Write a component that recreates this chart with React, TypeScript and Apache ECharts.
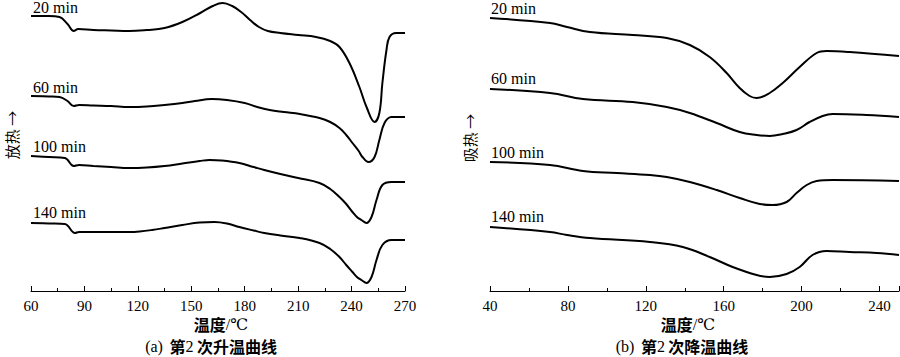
import React, { useEffect, useRef } from "react";
import * as echarts from "echarts";

// Left panel: 2nd heating curves (temperature °C, relative heat flow, arbitrary units)
const heat20: [number, number][] = [[60,275],[70,275],[76,274],[80.5,267],[84,260],[86.5,262],[95,261],[105,260.5],[115,260],[125,261],[135,263],[145,269],[155,278],[162,285],[167.6,288],[173,285],[178,279],[183,271],[188,264],[193,260],[200,258],[210,256],[220,254],[228,250],[233.2,244],[238.8,228],[244.4,204],[248.4,184],[252.9,169],[255.6,178],[257.3,208],[259.6,241],[261.3,254],[265,258],[270,258]];
const heat60: [number, number][] = [[60,195],[70,194.5],[76,194],[80.5,190],[84,185],[87,186],[95,185.5],[105,185],[115,184],[125,184.5],[135,186],[145,188],[152,190],[161.5,192],[170,191],[180,188],[187,184],[194,181],[202,179],[211,177],[222,173],[228,169],[233.2,163],[237,156],[240.5,148],[244,140],[246.1,134],[249.5,129],[252.9,134],[255.6,151],[258.5,168],[262.4,174],[270,174]];
const heat100: [number, number][] = [[60,135],[70,134],[79,133],[84,125],[87,126],[95,125],[105,124],[115,123],[125,123.5],[135,125],[145,127.5],[154.7,130],[160.3,131],[167,130.5],[177,128],[185,124],[191,121],[200,117],[210,113],[222,108],[228,102],[233.2,94],[237,87],[240.5,79],[243,74],[245.5,71],[248.4,68],[251.2,74],[254,91],[257.3,106],[262.4,109],[270,109]];
const heat140: [number, number][] = [[60,68],[70,67.5],[79,67],[84.7,58],[87,59],[95,59],[105,59],[115,59],[121,59.5],[128,61],[135,63],[145,66],[154.7,68.5],[163,69],[170,67.5],[177,64],[185,60.5],[191,58],[200,55.5],[210.8,53],[222,48],[228,42],[233.2,34],[237,26],[240.5,19],[243,14],[245.5,11],[248.4,8],[251.2,14],[254,31],[257.3,46],[262.4,51],[270,51]];

// Right panel: 2nd cooling curves
const cool20: [number, number][] = [[40,273],[70.8,268],[79.5,264],[91.3,259],[113.3,256],[130.8,253],[142.6,246],[152.8,234],[161.5,218],[168.2,203],[173.3,195],[176.9,193],[183.6,198],[190.3,208],[199,224],[207.7,238],[212.8,240],[224.6,239],[250,235]];
const cool60: [number, number][] = [[40,202],[70.8,198],[87.7,192],[113.3,189],[130.8,184],[142.6,178],[156.4,168],[168.2,159],[176.9,156],[183.6,155],[190.3,157],[197.4,161],[204.1,169],[210.8,175],[215.9,177],[233.3,176],[250,174]];
const cool100: [number, number][] = [[40,129],[70.8,126],[87.7,120],[105.1,118],[122.1,116],[130.8,114],[142.6,109],[156.4,101],[168.2,93],[178.5,87],[185.1,86],[192.3,89],[197.4,98],[202.6,106],[207.7,110],[215.9,111],[250,110]];
const cool140: [number, number][] = [[40,64],[70.8,59],[79.5,56],[91.3,53],[122.1,49],[139,44],[152.8,34],[164.6,24],[176.9,16],[183.6,14],[192.3,17],[199,24],[205.6,36],[212.8,40],[224.6,39],[238.5,38],[250,36]];

const seriesNames = ["20 min", "60 min", "100 min", "140 min"];
const heatData = [heat20, heat60, heat100, heat140];
const coolData = [cool20, cool60, cool100, cool140];

const SERIF = "'Liberation Serif', 'DejaVu Serif', serif";
const CJK = "'Noto Sans CJK SC', sans-serif";

export default function App() {
  const ref = useRef<HTMLDivElement>(null);
  useEffect(() => {
    if (!ref.current) return;
    const chart = echarts.init(ref.current, undefined, { renderer: "svg" });

    const xAxisCommon = {
      type: "value" as const,
      axisLine: { show: true, onZero: false, lineStyle: { color: "#000", width: 1 } },
      axisTick: { show: true, inside: true, length: 5, lineStyle: { color: "#000" } },
      minorTick: { show: true, splitNumber: 2, length: 3, lineStyle: { color: "#000" } },
      splitLine: { show: false },
      axisLabel: { color: "#000", fontFamily: SERIF, fontSize: 15, margin: 7 },
    };
    const yAxisCommon = {
      type: "value" as const,
      min: 0,
      max: 291,
      show: false,
    };

    const lineSeries = (data: [number, number][], idx: number, name: string) => ({
      type: "line",
      name,
      xAxisIndex: idx,
      yAxisIndex: idx,
      data,
      showSymbol: false,
      symbol: "none",
      smooth: 0.4,
      lineStyle: { color: "#000", width: 2 },
    });

    const leftLabelY = [7, 87, 146, 212];
    const rightLabelY = [8, 78, 152, 216];

    const graphics: any[] = [];
    seriesNames.forEach((n, i) => {
      graphics.push({
        type: "text", x: 33, y: leftLabelY[i],
        style: { text: n, fontFamily: SERIF, fontSize: 16, fill: "#000", textAlign: "left", textVerticalAlign: "middle" },
      });
      graphics.push({
        type: "text", x: 491, y: rightLabelY[i],
        style: { text: n, fontFamily: SERIF, fontSize: 16, fill: "#000", textAlign: "left", textVerticalAlign: "middle" },
      });
    });
    const yName = (text: string, x: number, y: number) => ({
      type: "text", x, y, rotation: Math.PI / 2,
      style: { text, fontFamily: CJK, fontSize: 15, fill: "#000", textAlign: "center", textVerticalAlign: "middle" },
    });
    graphics.push(yName("放热 →", 11, 135));
    graphics.push(yName("吸热 →", 469, 138));

    const richStyles = {
      b: { fontFamily: CJK, fontWeight: "bold", fontSize: 16, lineHeight: 16, fill: "#000" },
      s: { fontFamily: SERIF, fontSize: 16, lineHeight: 16, fill: "#000" },
    };
    const xName = (x: number, y: number) => ({
      type: "text", x, y,
      style: { text: "{b|温度}{s|/℃}", rich: richStyles, textAlign: "center", textVerticalAlign: "middle" },
    });
    const caption = (x: number, y: number, tag: string, word: string) => ({
      type: "text", x, y,
      style: { text: `{s|(${tag})}  {b|第}{s|2} {b|${word}}`, rich: richStyles, textAlign: "center", textVerticalAlign: "middle" },
    });
    graphics.push(xName(221, 324));
    graphics.push(xName(688, 324));
    graphics.push(caption(211, 346, "a", "次升温曲线"));
    graphics.push(caption(682, 346, "b", "次降温曲线"));

    chart.setOption({
      animation: false,
      backgroundColor: "#fff",
      grid: [
        { left: 31, right: 495, top: 0, bottom: 66, containLabel: false },
        { left: 490, right: 1, top: 0, bottom: 66, containLabel: false },
      ],
      xAxis: [
        { ...xAxisCommon, gridIndex: 0, min: 60, max: 270, interval: 30 },
        { ...xAxisCommon, gridIndex: 1, min: 40, max: 250, interval: 40,
          axisLabel: { ...xAxisCommon.axisLabel, showMaxLabel: false } },
      ],
      yAxis: [
        { ...yAxisCommon, gridIndex: 0 },
        { ...yAxisCommon, gridIndex: 1 },
      ],
      series: [
        ...heatData.map((d, i) => lineSeries(d, 0, "升温 " + seriesNames[i])),
        ...coolData.map((d, i) => lineSeries(d, 1, "降温 " + seriesNames[i])),
      ],
      graphic: graphics,
    });
    return () => chart.dispose();
  }, []);
  return <div ref={ref} style={{ width: 900, height: 357, position: "absolute", left: 0, top: 0 }} />;
}
